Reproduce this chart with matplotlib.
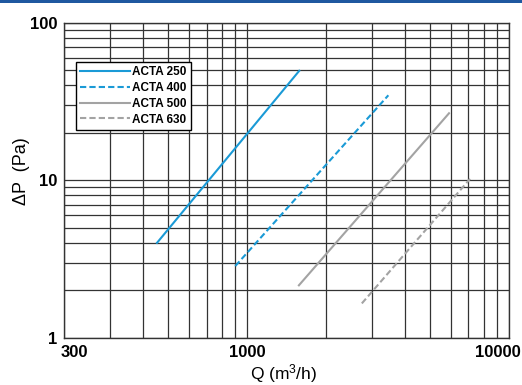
import numpy as np
import matplotlib.pyplot as plt
from matplotlib.patches import Rectangle
from matplotlib.transforms import ScaledTranslation

plt.rcParams['font.family'] = ['Liberation Sans', 'DejaVu Sans']
plt.rcParams['mathtext.fontset'] = 'custom'
plt.rcParams['mathtext.rm'] = 'Liberation Sans'
plt.rcParams['mathtext.it'] = 'Liberation Sans:italic'

# data (Q in m3/h, dP in Pa), end points of each line
q250 = [452, 1580]
p250 = [4.0, 49.5]
q400 = [900, 3460]
p400 = [2.85, 34.6]
q500 = [1575, 5900]
p500 = [2.15, 26.6]
q630 = [2740, 7100]
p630 = [1.65, 10.2]

xticks = [200, 1000, 10000]
xticklabels = ['300', '1000', '10000']
yticks = [1, 10, 100]
yticklabels = ['1', '10', '100']

blue = '#1a9ad6'
grey = '#a3a3a3'

fig = plt.figure(figsize=(5.22, 3.85), dpi=100)
ax = fig.add_axes([0.1232, 0.1229, 0.8519, 0.8182])

# top band
fig.add_artist(Rectangle((0, 0.992), 1, 0.008, transform=fig.transFigure,
                         color='#1f58a0', lw=0))

ax.set_xscale('log')
ax.set_yscale('log')
ax.set_xlim(200, 10000)
ax.set_ylim(1, 100)

ax.plot(q250, p250, color=blue, lw=1.5, label='ACTA 250')
ax.plot(q400, p400, color=blue, lw=1.5, ls=(0, (3, 1.5)), label='ACTA 400')
ax.plot(q500, p500, color=grey, lw=1.5, label='ACTA 500')
ax.plot(q630, p630, color=grey, lw=1.5, ls=(0, (3, 1.5)), label='ACTA 630')

ax.grid(True, which='both', color='#333333', lw=0.9)
ax.set_axisbelow(True)
ax.tick_params(which='both', length=0, pad=5)
ax.set_xticks(xticks)
ax.set_xticklabels(xticklabels, fontsize=12, fontweight='bold')
ax.set_yticks(yticks)
ax.set_yticklabels(yticklabels, fontsize=12, fontweight='bold')
ax.xaxis.set_minor_formatter(plt.NullFormatter())
ax.yaxis.set_minor_formatter(plt.NullFormatter())

labs = ax.get_xticklabels()
labs[0].set_transform(labs[0].get_transform() + ScaledTranslation(10 / 100, 0, fig.dpi_scale_trans))
labs[-1].set_transform(labs[-1].get_transform() + ScaledTranslation(-11 / 100, 0, fig.dpi_scale_trans))

for s in ax.spines.values():
    s.set_color('#333333')
    s.set_linewidth(1)

fig.text(284 / 522, 1 - 374 / 385, 'Q (m$^{3}$/h)', fontsize=12.5,
         ha='center', va='center')
fig.text(22 / 522, 1 - 171 / 385, 'ΔP  (Pa)', fontsize=13, rotation=90,
         ha='center', va='center')

leg = ax.legend(loc='upper left', bbox_to_anchor=(0.027, 0.876), borderaxespad=0,
                fancybox=False, edgecolor='black', framealpha=1,
                prop={'size': 8.5, 'weight': 'bold'}, handlelength=4.2,
                handletextpad=0.2, labelspacing=0.33, borderpad=0.35)
leg.get_frame().set_linewidth(1)

fig.savefig('out.png', dpi=100)
